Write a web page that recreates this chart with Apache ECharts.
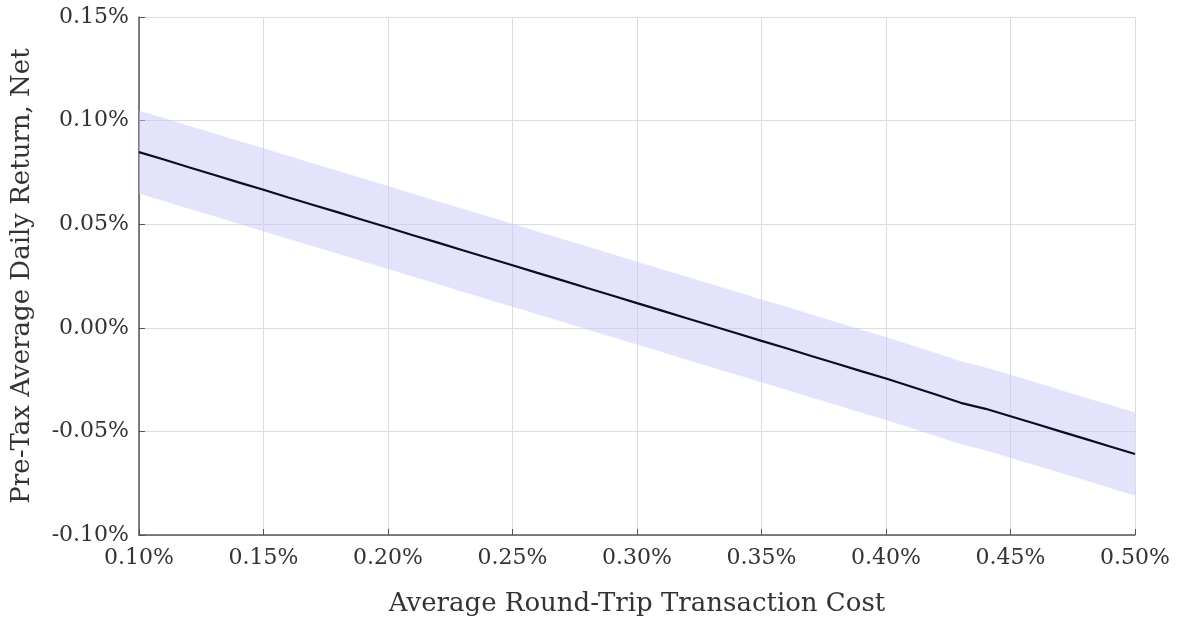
<!DOCTYPE html>
<html>
<head>
<meta charset="utf-8">
<script src="https://cdn.jsdelivr.net/npm/echarts@6.0.0/dist/echarts.min.js"></script>
<style>
  html, body { margin: 0; padding: 0; background: #fff; }
  #chart { width: 1177px; height: 622px; }
</style>
</head>
<body>
<div id="chart"></div>
<script>
// 交易成本（%）
const costs = [
  0.10, 0.11, 0.12, 0.13, 0.14, 0.15, 0.16, 0.17, 0.18, 0.19,
  0.20, 0.21, 0.22, 0.23, 0.24, 0.25, 0.26, 0.27, 0.28, 0.29,
  0.30, 0.31, 0.32, 0.33, 0.34, 0.35, 0.36, 0.37, 0.38, 0.39,
  0.40, 0.41, 0.42, 0.43, 0.44, 0.45, 0.46, 0.47, 0.48, 0.49, 0.50
];

// 平均日收益（%）
const netReturn = [
  0.0848, 0.0812, 0.0775, 0.0739, 0.0702, 0.0666, 0.0629, 0.0593, 0.0557, 0.0520,
  0.0484, 0.0447, 0.0411, 0.0374, 0.0338, 0.0302, 0.0265, 0.0229, 0.0192, 0.0156,
  0.0119, 0.0083, 0.0046, 0.0010, -0.0026, -0.0063, -0.0099, -0.0136, -0.0172, -0.0209,
  -0.0245, -0.0283, -0.0322, -0.0362, -0.0391, -0.0427, -0.0463, -0.0500, -0.0536, -0.0573, -0.0609
];

// 置信带上下界
const bandUpper = [
  0.1048, 0.1012, 0.0975, 0.0939, 0.0902, 0.0866, 0.0829, 0.0793, 0.0757, 0.0720,
  0.0684, 0.0647, 0.0611, 0.0574, 0.0538, 0.0502, 0.0465, 0.0429, 0.0392, 0.0356,
  0.0319, 0.0283, 0.0246, 0.0210, 0.0174, 0.0137, 0.0101, 0.0064, 0.0028, -0.0009,
  -0.0045, -0.0083, -0.0122, -0.0162, -0.0191, -0.0227, -0.0263, -0.0300, -0.0336, -0.0373, -0.0409
];
const bandLower = [
  0.0648, 0.0612, 0.0575, 0.0539, 0.0502, 0.0466, 0.0429, 0.0393, 0.0357, 0.0320,
  0.0284, 0.0247, 0.0211, 0.0174, 0.0138, 0.0102, 0.0065, 0.0029, -0.0008, -0.0044,
  -0.0081, -0.0117, -0.0154, -0.0190, -0.0226, -0.0263, -0.0299, -0.0336, -0.0372, -0.0409,
  -0.0445, -0.0483, -0.0522, -0.0562, -0.0591, -0.0627, -0.0663, -0.0700, -0.0736, -0.0773, -0.0809
];

const xTicks = [0.10, 0.50, 0.05];
const yTicks = [-0.10, 0.15, 0.05];

const font = 'DejaVu Serif';

const chart = echarts.init(document.getElementById('chart'));

const bandData = costs.map((c, i) => [c, bandLower[i], bandUpper[i]]);
const lineData = costs.map((c, i) => [c, netReturn[i]]);

// 用多边形画置信带
function renderBand(params, api) {
  if (params.dataIndex !== 0) return null;
  const top = [];
  const bottom = [];
  for (let i = 0; i < bandData.length; i++) {
    top.push(api.coord([bandData[i][0], bandData[i][2]]));
    bottom.push(api.coord([bandData[i][0], bandData[i][1]]));
  }
  return {
    type: 'polygon',
    shape: { points: top.concat(bottom.reverse()) },
    style: { fill: 'rgba(200, 200, 250, 0.5)' },
    silent: true
  };
}

const option = {
  animation: false,
  backgroundColor: '#fff',
  grid: { left: 139, right: 42, top: 17, bottom: 87 },
  xAxis: {
    type: 'value',
    min: xTicks[0],
    max: xTicks[1],
    interval: xTicks[2],
    name: 'Average Round-Trip Transaction Cost',
    nameLocation: 'middle',
    nameGap: 56,
    nameTextStyle: { fontFamily: font, fontSize: 26, color: '#333' },
    axisLine: { show: true, onZero: false, lineStyle: { color: '#555', width: 1.5 } },
    axisTick: { show: true, inside: true, length: 6, lineStyle: { color: '#555' } },
    axisLabel: {
      fontFamily: font, fontSize: 22, color: '#333', margin: 12,
      formatter: (v) => v.toFixed(2) + '%'
    },
    splitLine: { show: true, lineStyle: { color: '#dcdcdc', width: 1 } }
  },
  yAxis: {
    type: 'value',
    min: yTicks[0],
    max: yTicks[1],
    interval: yTicks[2],
    name: 'Pre-Tax Average Daily Return, Net',
    nameLocation: 'middle',
    nameGap: 104,
    nameTextStyle: { fontFamily: font, fontSize: 26, color: '#333' },
    axisLine: { show: true, lineStyle: { color: '#555', width: 1.5 } },
    axisTick: { show: true, inside: true, length: 6, lineStyle: { color: '#555' } },
    axisLabel: {
      fontFamily: font, fontSize: 22, color: '#333', margin: 10,
      formatter: (v) => v.toFixed(2) + '%'
    },
    splitLine: { show: true, lineStyle: { color: '#dcdcdc', width: 1 } }
  },
  series: [
    {
      type: 'custom',
      renderItem: renderBand,
      data: bandData,
      encode: { x: 0, y: [1, 2] },
      z: 1,
      silent: true
    },
    {
      type: 'line',
      data: lineData,
      symbol: 'none',
      lineStyle: { color: '#0c0c26', width: 2.2 },
      z: 5
    }
  ]
};

chart.setOption(option);
</script>
</body>
</html>
